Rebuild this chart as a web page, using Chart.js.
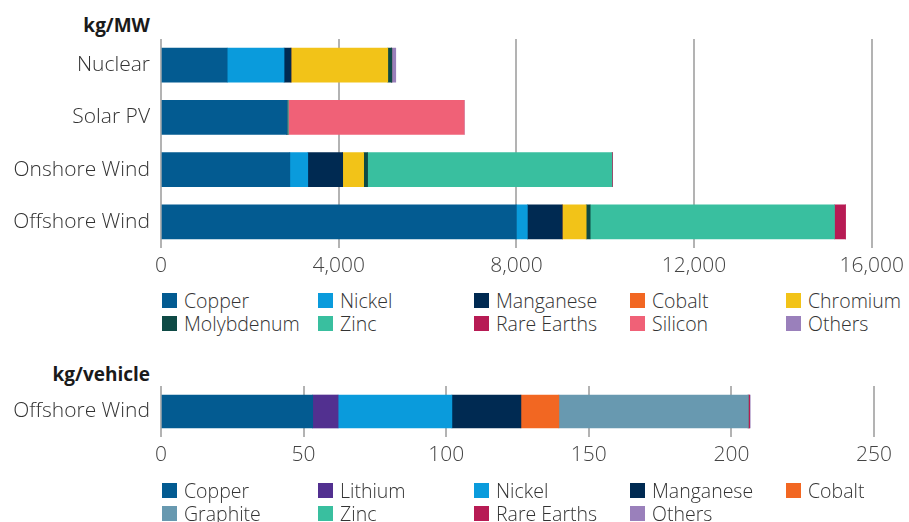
<!DOCTYPE html>
<html lang="en">
<head>
  <meta charset="UTF-8" />
  <title>Minerals per MW and per vehicle</title>
  <script src="https://cdn.jsdelivr.net/npm/chart.js"></script>
  <style>
    body { margin: 0; background: #fff; font-family: "Open Sans", Lato, sans-serif; }
    #wrap { position: relative; width: 909px; height: 522px; overflow: hidden; }
    canvas { position: absolute; left: 0; }
    #c1 { top: 0; }
    #c2 { top: 340px; }
    .unit { position: absolute; right: 759px; font: bold 19px "Open Sans", sans-serif; color: #1a1a1a; }
    .legend { position: absolute; left: 162px; display: grid; grid-template-columns: repeat(5, 156px); grid-auto-rows: 23px; }
    .legend div { display: flex; align-items: center; font-size: 19.5px; font-weight: 300; color: #333; white-space: nowrap; }
    .legend span { width: 15px; height: 15px; margin-right: 7px; flex: none; }
  </style>
</head>
<body>
<div id="wrap">
  <div class="unit" style="top:12px">kg/MW</div>
  <canvas id="c1" width="909" height="285"></canvas>
  <div class="legend" id="leg1" style="top:289px"></div>
  <div class="unit" style="top:361px">kg/vehicle</div>
  <canvas id="c2" width="909" height="140"></canvas>
  <div class="legend" id="leg2" style="top:479px"></div>
</div>
<script>
  // top chart: kg per MW of capacity
  const plants = ['Nuclear', 'Solar PV', 'Onshore Wind', 'Offshore Wind'];
  const copper     = [1490, 2836, 2900, 8000];
  const nickel     = [1280, 0, 404, 247];
  const manganese  = [157, 0, 786, 785];
  const cobalt     = [0, 0, 0, 0];
  const chromium   = [2178, 0, 472, 539];
  const molybdenum = [90, 0, 89, 90];
  const zinc       = [0, 30, 5500, 5500];
  const rareEarths = [0, 0, 14, 247];
  const silicon    = [0, 3960, 0, 0];
  const others     = [90, 0, 0, 0];
  const mwTicks = [0, 4000, 8000, 12000, 16000];

  // bottom chart: kg per vehicle
  const vehicles = ['Offshore Wind'];
  const carCopper = [53.2];
  const carLithium = [8.9];
  const carNickel = [39.9];
  const carManganese = [24.2];
  const carCobalt = [13.3];
  const carGraphite = [66.3];
  const carZinc = [0.1];
  const carRareEarths = [0.5];
  const carOthers = [0.2];
  const carTicks = [0, 50, 100, 150, 200, 250];

  const col = {
    Copper: '#035b91', Nickel: '#0a9bdc', Manganese: '#002a52', Cobalt: '#f26722',
    Chromium: '#f2c318', Molybdenum: '#0e4a45', Zinc: '#39bf9f', 'Rare Earths': '#b71b54',
    Silicon: '#f06177', Others: '#9a80bb', Lithium: '#523090', Graphite: '#6899b0'
  };

  function ds(label, data) {
    return { label, data, backgroundColor: col[label], borderWidth: 0, barThickness: 34 };
  }

  const mwSets = [
    ds('Copper', copper), ds('Nickel', nickel), ds('Manganese', manganese), ds('Cobalt', cobalt),
    ds('Chromium', chromium), ds('Molybdenum', molybdenum), ds('Zinc', zinc),
    ds('Rare Earths', rareEarths), ds('Silicon', silicon), ds('Others', others)
  ];
  const carSets = [
    ds('Copper', carCopper), ds('Lithium', carLithium), ds('Nickel', carNickel),
    ds('Manganese', carManganese), ds('Cobalt', carCobalt), ds('Graphite', carGraphite),
    ds('Zinc', carZinc), ds('Rare Earths', carRareEarths), ds('Others', carOthers)
  ];
  carSets.forEach(d => d.barThickness = 33);

  const tickFont = { family: 'Open Sans', size: 21, weight: '300' };

  function makeChart(id, labels, datasets, ticks, padTop, xHeight, fmt) {
    return new Chart(document.getElementById(id), {
      type: 'bar',
      data: { labels, datasets },
      options: {
        indexAxis: 'y',
        responsive: false,
        animation: false,
        layout: { padding: { top: padTop, right: 35, left: 0, bottom: 0 } },
        plugins: { legend: { display: false }, tooltip: { enabled: false } },
        scales: {
          x: {
            stacked: true,
            min: ticks[0],
            max: ticks[ticks.length - 1],
            afterBuildTicks: s => { s.ticks = ticks.map(v => ({ value: v })); },
            afterFit: s => { s.height = xHeight; },
            grid: { color: '#b3b3b3', lineWidth: 2, drawTicks: false },
            border: { display: false },
            ticks: { font: tickFont, color: '#444', padding: 5, callback: v => fmt(v) }
          },
          y: {
            stacked: true,
            afterFit: s => { s.width = 161; },
            grid: { display: false, drawTicks: false },
            border: { display: false },
            ticks: { font: tickFont, color: '#333', padding: 11 }
          }
        }
      }
    });
  }

  makeChart('c1', plants, mwSets, mwTicks, 39, 37, v => v.toLocaleString('en-US'));
  makeChart('c2', vehicles, carSets, carTicks, 46, 43, v => String(v));

  function legend(id, datasets) {
    const el = document.getElementById(id);
    datasets.forEach(d => {
      const item = document.createElement('div');
      const box = document.createElement('span');
      box.style.background = d.backgroundColor;
      item.appendChild(box);
      item.appendChild(document.createTextNode(d.label));
      el.appendChild(item);
    });
  }
  legend('leg1', mwSets);
  legend('leg2', carSets);
</script>
</body>
</html>
